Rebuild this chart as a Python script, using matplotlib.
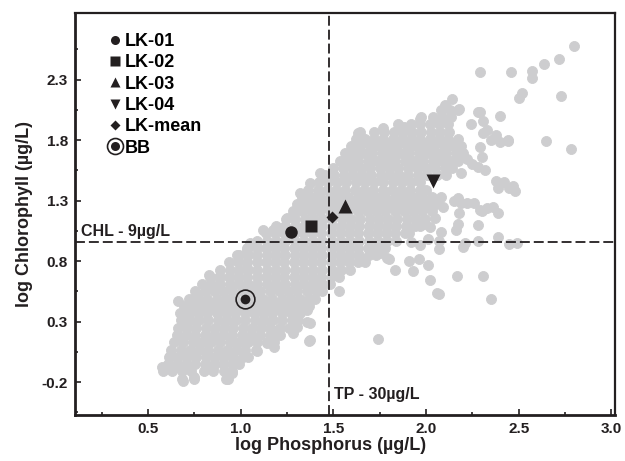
import numpy as np
import matplotlib
matplotlib.use("Agg")
import matplotlib.pyplot as plt
import matplotlib.ticker as ticker
from matplotlib.lines import Line2D
from matplotlib.legend_handler import HandlerTuple

plt.rcParams['font.family'] = ['Liberation Sans', 'DejaVu Sans']
plt.rcParams['font.weight'] = 'bold'
plt.rcParams['axes.labelweight'] = 'bold'
plt.rcParams['axes.unicode_minus'] = False

# survey lakes, dense core of the cloud read row by row: (log chl, [log tp ...])
core_rows = [
    (-0.17, [0.685, 0.745, 0.93]),
    (-0.11, [0.58, 0.63, 0.68, 0.73, 0.80, 0.85, 0.91, 0.95]),
    (-0.05, [0.605, 0.655, 0.705, 0.755, 0.805, 0.855, 0.905, 0.955, 0.99]),
    (0.01, [0.61, 0.66, 0.71, 0.76, 0.81, 0.86, 0.91, 0.96, 1.01, 1.04]),
    (0.07, [0.625, 0.675, 0.725, 0.775, 0.825, 0.875, 0.925, 0.975, 1.025, 1.08]),
    (0.13, [0.64, 0.69, 0.74, 0.79, 0.84, 0.89, 0.94, 0.99, 1.04, 1.09, 1.14, 1.18]),
    (0.19, [0.655, 0.705, 0.755, 0.805, 0.855, 0.905, 0.955, 1.005, 1.055, 1.105, 1.155, 1.21]),
    (0.25, [0.66, 0.71, 0.76, 0.81, 0.86, 0.91, 0.96, 1.01, 1.06, 1.11, 1.16, 1.21, 1.26]),
    (0.31, [0.675, 0.725, 0.775, 0.825, 0.875, 0.925, 0.975, 1.025, 1.075, 1.125, 1.175, 1.225, 1.275, 1.31]),
    (0.37, [0.67, 0.72, 0.77, 0.82, 0.87, 0.92, 0.97, 1.02, 1.07, 1.12, 1.17, 1.22, 1.27, 1.32]),
    (0.43, [0.695, 0.745, 0.795, 0.845, 0.895, 0.945, 0.995, 1.045, 1.095, 1.145, 1.195, 1.245, 1.295, 1.345, 1.37]),
    (0.49, [0.72, 0.77, 0.82, 0.87, 0.92, 0.97, 1.02, 1.07, 1.12, 1.17, 1.22, 1.27, 1.32, 1.37, 1.40]),
    (0.55, [0.755, 0.805, 0.855, 0.905, 0.955, 1.005, 1.055, 1.105, 1.155, 1.205, 1.255, 1.305, 1.355, 1.405, 1.44]),
    (0.61, [0.79, 0.84, 0.89, 0.94, 0.99, 1.04, 1.09, 1.14, 1.19, 1.24, 1.29, 1.34, 1.39, 1.44, 1.48]),
    (0.67, [0.835, 0.885, 0.935, 0.985, 1.035, 1.085, 1.135, 1.185, 1.235, 1.285, 1.335, 1.385, 1.435, 1.485, 1.53]),
    (0.73, [0.89, 0.94, 0.99, 1.04, 1.09, 1.14, 1.19, 1.24, 1.29, 1.34, 1.39, 1.44, 1.49, 1.54, 1.59]),
    (0.79, [0.935, 0.985, 1.035, 1.085, 1.135, 1.185, 1.235, 1.285, 1.335, 1.385, 1.435, 1.485, 1.535, 1.585, 1.635, 1.67]),
    (0.85, [0.99, 1.04, 1.09, 1.14, 1.19, 1.24, 1.29, 1.34, 1.39, 1.44, 1.49, 1.54, 1.59, 1.64, 1.69, 1.73]),
    (0.91, [1.035, 1.085, 1.135, 1.185, 1.235, 1.285, 1.335, 1.385, 1.435, 1.485, 1.535, 1.585, 1.635, 1.685, 1.735, 1.78]),
    (0.97, [1.09, 1.14, 1.19, 1.24, 1.29, 1.34, 1.39, 1.44, 1.49, 1.54, 1.59, 1.64, 1.69, 1.74, 1.79, 1.84]),
    (1.03, [1.135, 1.185, 1.235, 1.285, 1.335, 1.385, 1.435, 1.485, 1.535, 1.585, 1.635, 1.685, 1.735, 1.785, 1.835, 1.885, 1.91]),
    (1.09, [1.19, 1.24, 1.29, 1.34, 1.39, 1.44, 1.49, 1.54, 1.59, 1.64, 1.69, 1.74, 1.79, 1.84, 1.89, 1.94, 1.97]),
    (1.15, [1.245, 1.295, 1.345, 1.395, 1.445, 1.495, 1.545, 1.595, 1.645, 1.695, 1.745, 1.795, 1.845, 1.895, 1.945, 1.995]),
    (1.21, [1.28, 1.33, 1.38, 1.43, 1.48, 1.53, 1.58, 1.63, 1.68, 1.73, 1.78, 1.83, 1.88, 1.93, 1.98, 2.03]),
    (1.27, [1.305, 1.355, 1.405, 1.455, 1.505, 1.555, 1.605, 1.655, 1.705, 1.755, 1.805, 1.855, 1.905, 1.955, 2.005, 2.055]),
    (1.33, [1.33, 1.38, 1.43, 1.48, 1.53, 1.58, 1.63, 1.68, 1.73, 1.78, 1.83, 1.88, 1.93, 1.98, 2.03, 2.08]),
    (1.39, [1.365, 1.415, 1.465, 1.515, 1.565, 1.615, 1.665, 1.715, 1.765, 1.815, 1.865, 1.915, 1.965, 2.0]),
    (1.45, [1.42, 1.47, 1.52, 1.57, 1.62, 1.67, 1.72, 1.77, 1.82, 1.87, 1.92, 1.97]),
    (1.51, [1.455, 1.505, 1.555, 1.605, 1.655, 1.705, 1.755, 1.805, 1.855, 1.905, 1.955, 2.005, 2.06, 2.11]),
    (1.57, [1.50, 1.55, 1.60, 1.65, 1.70, 1.75, 1.80, 1.85, 1.90, 1.95, 2.00, 2.05, 2.10, 2.14]),
    (1.63, [1.535, 1.585, 1.635, 1.685, 1.735, 1.785, 1.835, 1.885, 1.935, 1.985, 2.035, 2.085, 2.135, 2.17]),
    (1.69, [1.56, 1.61, 1.66, 1.71, 1.76, 1.81, 1.86, 1.91, 1.96, 2.01, 2.06, 2.11, 2.16, 2.20]),
    (1.75, [1.595, 1.645, 1.695, 1.745, 1.795, 1.845, 1.895, 1.945, 1.995, 2.045, 2.095, 2.145, 2.19]),
    (1.81, [1.62, 1.67, 1.72, 1.77, 1.82, 1.87, 1.92, 1.97, 2.02, 2.07, 2.12, 2.17]),
    (1.87, [1.645, 1.72, 1.775, 1.825, 1.875, 1.925, 1.975, 2.025, 2.075, 2.125]),
    (1.93, [1.85, 1.92, 1.97, 2.02, 2.07, 2.12]),
    (1.99, [1.975, 2.035, 2.085, 2.135]),
    (2.05, [2.08, 2.13]),
]

# scattered survey lakes around the core: (log tp, log chl)
edge_points = [
    (2.80, 2.58), (2.72, 2.47), (2.635, 2.43), (2.57, 2.37), (2.57, 2.31), (2.46, 2.36),
    (2.29, 2.36), (2.52, 2.19), (2.50, 2.15), (2.73, 2.16), (2.65, 1.79), (2.78, 1.73),
    (2.40, 2.00), (2.29, 2.03), (2.44, 1.79), (2.40, 1.78), (2.48, 1.38), (2.38, 1.46),
    (2.39, 1.40), (2.14, 2.14), (2.10, 2.09), (2.18, 2.06), (2.31, 1.96), (2.28, 1.58),
    (2.39, 1.20), (2.28, 1.10), (2.39, 1.00), (2.45, 0.94), (2.49, 0.95), (2.28, 0.965),
    (2.21, 0.95), (2.20, 0.915), (2.31, 0.68), (2.35, 0.49), (2.165, 0.68), (2.07, 0.53),
    (2.02, 0.64), (2.01, 0.77), (1.93, 0.72), (1.83, 0.73), (1.91, 0.80), (1.96, 0.82),
    (2.07, 0.90), (2.07, 0.97), (1.80, 0.82), (2.17, 1.11), (2.16, 1.06), (2.26, 1.28),
    (2.29, 1.22), (2.33, 1.24), (2.17, 1.32), (2.19, 1.28), (2.09, 1.25), (2.05, 1.16),
    (2.08, 1.04), (1.99, 1.11), (2.02, 1.08), (1.74, 0.155), (1.37, 0.14), (1.36, 0.30),
    (2.06, 0.535), (1.58, 0.82), (1.53, 0.55), (1.43, 0.62), (1.34, 0.44),
    (1.75, 0.865), (1.79, 0.825), (1.72, 0.89), (1.92, 0.96), (1.97, 0.93), (2.01, 0.98),
    (0.69, -0.19), (0.75, -0.16), (0.92, -0.175), (0.95, -0.12), (0.66, 0.47), (0.765, 0.53),
    (0.83, 0.685), (0.89, 0.67), (0.87, 0.585), (0.98, 0.85), (1.035, 0.74), (1.14, 0.12),
    (1.18, 0.09), (1.28, 0.21), (1.375, 0.145), (1.09, 0.056), (0.85, -0.08), (0.69, 0.31),
    (0.68, 0.147), (0.62, 0.02), (0.576, -0.076), (1.20, 0.23), (1.305, 0.255), (1.36, 0.395),
    (1.375, 0.29), (1.035, 0.89), (1.05, 0.95), (1.12, 1.06), (1.175, 1.055), (1.21, 1.07),
    (1.305, 1.22), (1.25, 1.16), (1.32, 1.36), (1.375, 1.445), (1.43, 1.53), (1.63, 1.86),
    (1.765, 1.90), (1.88, 1.91), (1.97, 1.97), (2.10, 2.07), (2.17, 2.05), (2.28, 2.03),
    (2.44, 1.80), (2.19, 1.53), (2.25, 1.60), (2.30, 1.66), (2.32, 1.55), (2.22, 1.64),
    (2.42, 1.45), (2.45, 1.40), (2.47, 1.42), (2.15, 1.30), (2.22, 1.28), (2.30, 1.21),
    (2.36, 1.25), (2.18, 1.20), (2.29, 1.74), (2.35, 1.80), (2.33, 1.88), (2.38, 1.84),
    (2.24, 1.93), (2.31, 1.86),
]

# study sites
site_names = ['LK-01', 'LK-02', 'LK-03', 'LK-04', 'LK-mean', 'BB']
site_tp = [1.27, 1.38, 1.565, 2.035, 1.495, 1.024]
site_chl = [1.04, 1.09, 1.255, 1.46, 1.165, 0.486]
site_markers = ['o', 's', '^', 'v', 'D', 'o']

tp_threshold = 30   # ug/L
chl_threshold = 9   # ug/L

x_major = [0.5, 1.0, 1.5, 2.0, 2.5, 3.0]
y_major = [-0.2, 0.3, 0.8, 1.3, 1.8, 2.3]

dark = '#231f20'
grey = '#cdcdcf'

gray_tp = [x for y, row in core_rows for x in row] + [p[0] for p in edge_points]
gray_chl = [y for y, row in core_rows for x in row] + [p[1] for p in edge_points]

fig = plt.figure(figsize=(6.25, 4.61), dpi=100)
ax = fig.add_axes([0.12, 0.1, 0.864, 0.872])

ax.scatter(gray_tp, gray_chl, s=52, color=grey, edgecolors=grey, linewidths=0.6, zorder=1)

ax.axhline(np.log10(chl_threshold), color=dark, lw=1.3, ls=(0, (5.5, 2.2)), zorder=2)
ax.axvline(np.log10(tp_threshold), color=dark, lw=1.3, ls=(0, (5.5, 2.2)), zorder=2)

plot_sizes = [9, 9, 9.5, 9.5, 6.3]
for i in range(5):
    ax.plot(site_tp[i], site_chl[i], ls='none', marker=site_markers[i], ms=plot_sizes[i],
            color=dark, mec='none', zorder=4)
# BB: dot inside a ring
ax.plot(site_tp[5], site_chl[5], ls='none', marker='o', ms=7, color=dark, mec='none', zorder=4)
ax.plot(site_tp[5], site_chl[5], ls='none', marker='o', ms=13.5, mfc='none', mec=dark,
        mew=1.2, zorder=4)

ax.text(0.135, np.log10(chl_threshold) + 0.025, 'CHL - 9\u00b5g/L', fontsize=11.5,
        color=dark, va='bottom', ha='left')
ax.text(np.log10(tp_threshold) + 0.025, -0.3, 'TP - 30\u00b5g/L', fontsize=11.5,
        color=dark, va='center', ha='left')

handles = []
legend_sizes = [6.5, 7, 7.5, 7.5, 5.2]
for i in range(5):
    handles.append(Line2D([], [], ls='none', marker=site_markers[i], ms=legend_sizes[i],
                          color=dark, mec='none'))
ring = Line2D([], [], ls='none', marker='o', ms=11.5, mfc='none', mec=dark, mew=1.2)
dot = Line2D([], [], ls='none', marker='o', ms=6.5, color=dark, mec='none')
handles.append((ring, dot))
ax.legend(handles, site_names, loc='upper left', bbox_to_anchor=(0.061, 0.95), frameon=False,
          fontsize=13, handlelength=0.8, handletextpad=0.15, labelspacing=0.24,
          borderaxespad=0, borderpad=0, handler_map={tuple: HandlerTuple(ndivide=1)})

ax.set_xlim(0.105, 3.02)
ax.set_ylim(-0.47, 2.85)
ax.xaxis.set_major_locator(ticker.FixedLocator(x_major))
ax.xaxis.set_minor_locator(ticker.MultipleLocator(0.25))
ax.yaxis.set_major_locator(ticker.FixedLocator(y_major))
ax.yaxis.set_minor_locator(ticker.FixedLocator([v + 0.25 for v in [-0.7] + y_major]))
ax.xaxis.set_major_formatter(ticker.FormatStrFormatter('%.1f'))
ax.yaxis.set_major_formatter(ticker.FormatStrFormatter('%.1f'))

ax.tick_params(which='both', direction='in', colors=dark, labelsize=11, width=1.2)
ax.tick_params(which='major', length=4.5, pad=5)
ax.tick_params(which='minor', length=2.5)

for side in ['left', 'bottom']:
    ax.spines[side].set_linewidth(2.0)
for side in ['right', 'top']:
    ax.spines[side].set_linewidth(1.6)
for side in ax.spines:
    ax.spines[side].set_color(dark)

ax.set_xlabel('log Phosphorus (\u00b5g/L)', fontsize=13, color=dark, labelpad=2)
ax.xaxis.set_label_coords(0.474, -0.055)
ax.set_ylabel('log Chlorophyll (\u00b5g/L)', fontsize=13, color=dark, labelpad=6)

fig.savefig('out.png', dpi=100)
